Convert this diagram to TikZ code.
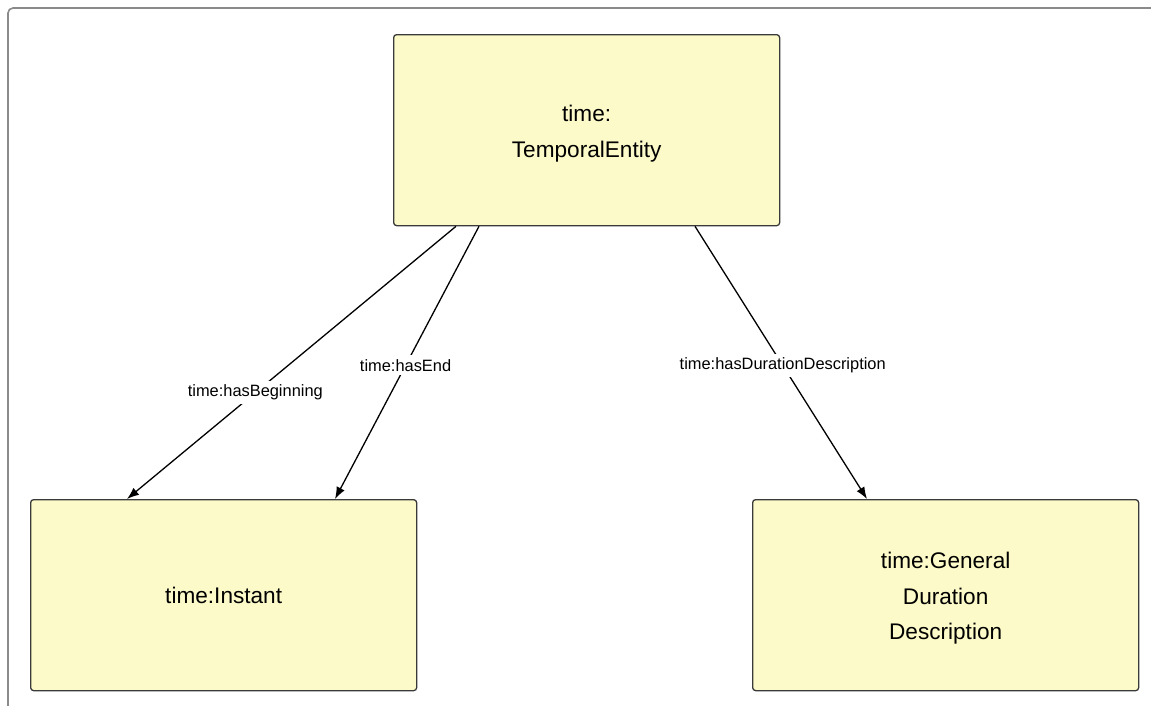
\documentclass[tikz,border=0pt]{standalone}
\usepackage{fontspec}
\setmainfont{Liberation Sans}
\usetikzlibrary{arrows.meta}
\definecolor{boxfill}{HTML}{FCFAC8}
\definecolor{boxline}{HTML}{3A3A3A}
\definecolor{framegray}{HTML}{8A8A8A}
% taller first line, to lower a multi-line label a little in its box
\newcommand{\toplift}{\rule{0pt}{23pt}}
\tikzset{
  classbox/.style={draw=boxline, line width=1.3pt, fill=boxfill, rounded corners=3pt,
    minimum width=386pt, minimum height=191pt, inner sep=0pt, align=center,
    font=\fontsize{22.6}{35.5}\selectfont, anchor=north west},
  rel/.style={line width=1.3pt, -{Latex[length=12pt,width=9pt]}},
  rellabel/.style={fill=white, font=\fontsize{16.4}{18}\selectfont, inner sep=4pt}
}
\begin{document}
\begin{tikzpicture}[x=1pt, y=-1pt]
  \useasboundingbox (0,0) rectangle (1151,705);
  % outer frame
  \draw[framegray, line width=1.6pt, rounded corners=5pt] (8,710) -- (8,8) -- (1160,8);

  % classes
  \node[classbox] (te) at (393,34) {\toplift time:\\TemporalEntity};
  \node[classbox] (inst) at (30,499) {time:Instant};
  \node[classbox] (gdd) at (752,499) {\toplift time:General\\Duration\\Description};

  % properties
  \draw[rel] ([xshift=63pt]te.south west) -- node[rellabel, pos=0.61] {time:hasBeginning} ([xshift=97pt]inst.north west);
  \draw[rel] ([xshift=86pt]te.south west) -- node[rellabel, pos=0.51] {time:hasEnd} ([xshift=305pt]inst.north west);
  \draw[rel] ([xshift=302pt]te.south west) -- node[rellabel, pos=0.51] {time:hasDurationDescription} ([xshift=115pt]gdd.north west);
\end{tikzpicture}
\end{document}
